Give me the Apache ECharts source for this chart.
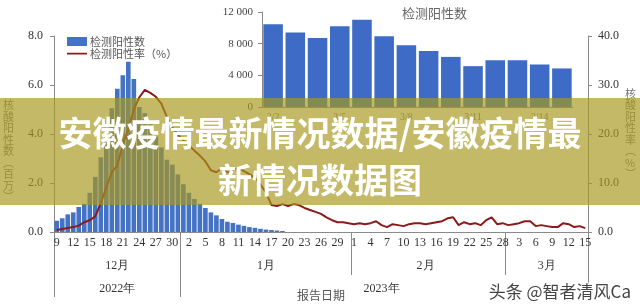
<!DOCTYPE html>
<html>
<head>
<meta charset="utf-8">
<script src="https://cdn.jsdelivr.net/npm/echarts@6.0.0/dist/echarts.min.js"></script>
<style>
  html, body { margin: 0; padding: 0; background: #fff; }
  #main { width: 640px; height: 307px; }
</style>
</head>
<body>
<div id="main"></div>
<script>
// 月份与日期范围
const monthNames = ['12月', '1月', '2月', '3月'];
const monthYears = ['2022年', '2023年', '2023年', '2023年'];
const monthDays = [[9, 31], [1, 31], [1, 28], [1, 15]];

// 检测阳性数（百万）
const positiveCount = [
  0.46, 0.56, 0.72, 0.80, 1.02, 1.15, 1.60, 2.25, 3.05, 3.90,
  5.05, 5.85, 6.40, 6.95, 6.25, 5.10, 4.85, 4.40, 3.90, 3.45,
  2.95, 2.75, 2.35, 1.95, 1.60, 1.35, 1.15, 0.98, 0.80, 0.68,
  0.53, 0.42, 0.37, 0.30, 0.25, 0.20, 0.17, 0.13, 0.10, 0.08,
  0.06, 0.04, 0, 0, 0, 0, 0, 0, 0, 0,
  0, 0, 0, 0, 0, 0, 0, 0, 0, 0,
  0, 0, 0, 0, 0, 0, 0, 0, 0, 0,
  0, 0, 0, 0, 0, 0, 0, 0, 0, 0,
  0, 0, 0, 0, 0, 0, 0, 0, 0, 0,
  0, 0, 0, 0, 0, 0, 0
];

// 检测阳性率（%）
const positiveRate = [
  0.4, 0.6, 0.8, 1.0, 1.3, 2.0, 2.4, 3.2, 5.9, 9.1,
  12.2, 13.6, 17.8, 21.0, 25.0, 27.5, 29.0, 28.4, 27.6, 26.2,
  23.5, 21.3, 19.9, 18.7, 17.7, 16.6, 15.6, 14.4, 12.6, 12.2,
  13.0, 12.2, 12.6, 13.2, 12.4, 11.8, 11.0, 9.7, 8.1, 5.5,
  5.3, 5.7, 5.3, 5.7, 5.5, 4.9, 4.5, 4.1, 3.7, 3.0,
  2.4, 2.0, 2.0, 1.8, 1.6, 1.8, 1.6, 1.8, 2.2, 1.4,
  1.0, 1.6, 1.4, 1.2, 1.6, 1.8, 1.8, 1.6, 1.8, 2.0,
  2.2, 2.8, 3.0, 1.4, 2.0, 1.6, 1.8, 1.4, 2.4, 3.0,
  1.6, 1.8, 1.4, 1.6, 1.8, 2.2, 2.2, 1.2, 1.4, 1.2,
  1.0, 1.0, 1.8, 1.6, 1.0, 1.2, 0.8
];

// 小图：近期检测阳性数
const insetDates = ['3/2', '3/3', '3/4', '3/5', '3/6', '3/7', '3/8', '3/9', '3/10', '3/11', '3/12', '3/13', '3/14', '3/15'];
const insetCount = [10440, 9400, 8720, 10190, 11030, 8930, 7800, 7080, 6330, 5160, 5910, 5910, 5370, 4870];

// 展开日期类目
const dayLabels = [];
const monthOfDay = [];
const yearOfDay = [];
const monthStarts = [];
const monthMids = [];
monthDays.forEach(function (r, m) {
  const start = dayLabels.length;
  monthStarts.push(start);
  for (let d = r[0]; d <= r[1]; d++) {
    dayLabels.push(String(d));
    monthOfDay.push(monthNames[m]);
    yearOfDay.push(monthYears[m]);
  }
  monthMids.push(Math.floor((start + dayLabels.length - 1) / 2));
});
const yearStarts = [];
const yearMids = [];
yearOfDay.forEach(function (y, i) {
  if (i === 0 || yearOfDay[i - 1] !== y) yearStarts.push(i);
});
yearStarts.forEach(function (s, k) {
  const end = k + 1 < yearStarts.length ? yearStarts[k + 1] - 1 : yearOfDay.length - 1;
  yearMids.push(Math.floor((s + end) / 2));
});

const serif = 'Liberation Serif';
const sans = 'Noto Sans CJK SC';
const axisGray = '#8a8a8a';
// 图例中折线的细线图标（四角留极小点以撑开尺寸）
const lineIcon = 'path://M0,0h0.01v0.01h-0.01Z M0,3.8h20v1.6h-20Z M19.99,8.99h0.01v0.01h-0.01Z';

var chart = echarts.init(document.getElementById('main'));
var option = {
  backgroundColor: '#fff',
  animation: false,
  title: {
    text: '检测阳性数',
    left: 397,
    top: 2,
    textStyle: { color: '#666', fontSize: 13, fontWeight: 'normal', fontFamily: sans }
  },
  legend: {
    orient: 'vertical',
    left: 62,
    top: 31,
    itemWidth: 20,
    itemHeight: 9,
    itemGap: 1,
    textStyle: { color: '#555', fontSize: 11, fontFamily: sans, padding: [0, 0, 0, -2] },
    data: [
      { name: '检测阳性数', icon: 'rect' },
      { name: '检测阳性率（%）', icon: lineIcon }
    ]
  },
  grid: [
    { left: 53, right: 52, top: 36, bottom: 75 },
    { left: 262, right: 67, top: 12, bottom: 200 }
  ],
  xAxis: [
    {
      gridIndex: 0,
      type: 'category',
      data: dayLabels,
      axisLine: { onZero: false, lineStyle: { color: axisGray } },
      axisTick: { interval: 0, length: 16, lineStyle: { color: axisGray } },
      axisLabel: { interval: 2, margin: 5, color: '#333', fontSize: 12, fontFamily: serif },
      name: '报告日期',
      nameLocation: 'middle',
      nameGap: 57,
      nameTextStyle: { color: '#555', fontSize: 12, fontFamily: sans }
    },
    {
      gridIndex: 0,
      type: 'category',
      data: monthOfDay,
      position: 'bottom',
      offset: 0,
      axisLine: { show: true, onZero: false, lineStyle: { color: 'rgba(0,0,0,0)' } },
      axisTick: {
        show: true,
        length: 43,
        interval: function (i) { return monthStarts.indexOf(i) > -1; },
        lineStyle: { color: axisGray }
      },
      axisLabel: {
        interval: function (i) { return monthMids.indexOf(i) > -1; },
        margin: 28, color: '#333', fontSize: 12, fontFamily: serif
      }
    },
    {
      gridIndex: 0,
      type: 'category',
      data: yearOfDay,
      position: 'bottom',
      offset: 0,
      axisLine: { show: true, onZero: false, lineStyle: { color: 'rgba(0,0,0,0)' } },
      axisTick: {
        show: true,
        length: 65,
        interval: function (i) { return yearStarts.indexOf(i) > -1; },
        lineStyle: { color: axisGray }
      },
      axisLabel: {
        interval: function (i) { return yearMids.indexOf(i) > -1; },
        margin: 51, color: '#333', fontSize: 12, fontFamily: serif
      }
    },
    {
      gridIndex: 1,
      type: 'category',
      data: insetDates,
      axisLine: { onZero: false, lineStyle: { color: axisGray } },
      axisTick: { interval: 0, length: 4, lineStyle: { color: axisGray } },
      axisLabel: { interval: 2, margin: 5, color: '#777', fontSize: 10, fontFamily: serif }
    }
  ],
  yAxis: [
    {
      gridIndex: 0,
      type: 'value',
      min: 0,
      max: 8,
      interval: 2,
      splitLine: { show: false },
      axisLine: { show: true, lineStyle: { color: axisGray } },
      axisTick: { show: true, length: 4, lineStyle: { color: axisGray } },
      axisLabel: {
        margin: 11, color: '#333', fontSize: 12, fontFamily: serif,
        formatter: function (v) { return v.toFixed(1); }
      },
      name: '\n\n\n核\n酸\n阳\n性\n数\n︵\n百\n万\n︶',
      nameLocation: 'middle',
      nameRotate: 0,
      nameGap: 40,
      nameTextStyle: { color: '#777', fontSize: 11, lineHeight: 11.5, fontFamily: sans }
    },
    {
      gridIndex: 0,
      type: 'value',
      position: 'right',
      min: 0,
      max: 40,
      interval: 10,
      splitLine: { show: false },
      axisLine: { show: true, lineStyle: { color: axisGray } },
      axisTick: { show: true, length: 4, lineStyle: { color: axisGray } },
      axisLabel: {
        margin: 10, color: '#333', fontSize: 12, fontFamily: serif,
        formatter: function (v) { return v.toFixed(1); }
      },
      name: '核\n酸\n阳\n性\n率\n︵\n%\n︶',
      nameLocation: 'middle',
      nameRotate: 0,
      nameGap: 36,
      nameTextStyle: { color: '#777', fontSize: 11, lineHeight: 11.5, fontFamily: sans }
    },
    {
      gridIndex: 1,
      type: 'value',
      min: 0,
      max: 12000,
      interval: 4000,
      splitLine: { show: false },
      axisLine: { show: true, lineStyle: { color: axisGray } },
      axisTick: { show: true, length: 4, lineStyle: { color: axisGray } },
      axisLabel: {
        margin: 9, color: '#444', fontSize: 11, fontFamily: serif,
        formatter: function (v) { return String(v).replace(/\B(?=(\d{3})+$)/g, ' '); }
      }
    }
  ],
  series: [
    {
      name: '检测阳性数',
      type: 'bar',
      xAxisIndex: 0,
      yAxisIndex: 0,
      data: positiveCount,
      barCategoryGap: '16%',
      itemStyle: { color: '#4472c4' }
    },
    {
      name: '检测阳性率（%）',
      type: 'line',
      xAxisIndex: 0,
      yAxisIndex: 1,
      data: positiveRate,
      symbol: 'none',
      itemStyle: { color: '#8b1a1a' },
      lineStyle: { color: '#8b1a1a', width: 2 },
      z: 3
    },
    {
      name: '检测阳性数',
      type: 'bar',
      xAxisIndex: 3,
      yAxisIndex: 2,
      data: insetCount,
      barCategoryGap: '12%',
      itemStyle: { color: '#3e6bc6' }
    }
  ],
  graphic: [
    {
      type: 'rect',
      left: 0,
      top: 98,
      z: 100,
      shape: { width: 640, height: 107 },
      style: { fill: 'rgba(168,152,30,0.68)' }
    },
    {
      type: 'text',
      left: 'center',
      top: 110,
      z: 101,
      style: {
        text: '安徽疫情最新情况数据/安徽疫情最\n新情况数据图',
        fill: '#fff',
        font: 'bold 34px "Noto Sans CJK SC"',
        textAlign: 'center',
        lineHeight: 47
      }
    },
    {
      type: 'text',
      right: 8,
      bottom: 6,
      z: 101,
      style: {
        text: '头条 @智者清风Ca',
        fill: '#444',
        font: '17px "Noto Sans CJK SC"',
        stroke: '#fff',
        lineWidth: 2
      }
    }
  ]
};
chart.setOption(option);
</script>
</body>
</html>
